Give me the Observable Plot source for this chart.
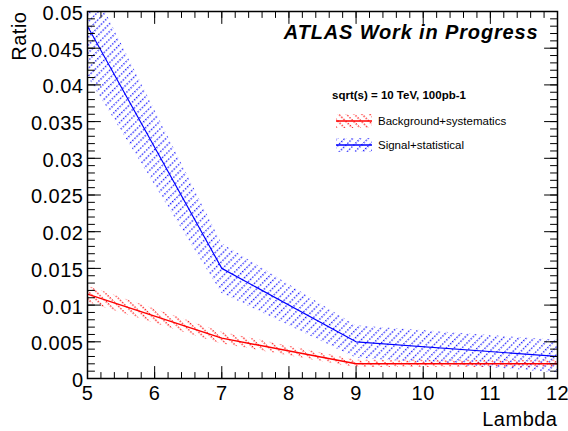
<!DOCTYPE html>
<html><head><meta charset="utf-8">
<script src="https://cdn.jsdelivr.net/npm/d3@7"></script>
<script src="https://cdn.jsdelivr.net/npm/@observablehq/plot@0.6"></script>
<style>
body{margin:0;background:#fff;}
#chart svg{font-family:"Liberation Sans",Arial,Helvetica,sans-serif;background:#fff;}
</style>
</head><body><div id="chart"></div>
<script>
// ---- data ----
const lambda = [5, 7, 9, 12];
const signal = [0.048, 0.015, 0.005, 0.003];
const signalErr = [0.0068, 0.0034, 0.0022, 0.0022];
const background = [0.0115, 0.0055, 0.002, 0.002];
const backgroundErr = [0.0011, 0.0008, 0.0005, 0.0005];
const xTicks = [5, 6, 7, 8, 9, 10, 11, 12];
const yTicks = [0, 0.005, 0.01, 0.015, 0.02, 0.025, 0.03, 0.035, 0.04, 0.045, 0.05];
const yTickLabels = ["0", "0.005", "0.01", "0.015", "0.02", "0.025", "0.03", "0.035", "0.04", "0.045", "0.05"];
const xDomain = [5, 12];
const yDomain = [0, 0.05];
const title = "ATLAS Work in Progress";
const legendHeader = "sqrt(s) = 10 TeV, 100pb-1";
const legendLabels = ["Background+systematics", "Signal+statistical"];
const colors = {bg: "#ff0000", sig: "#0000ff"};

const sigRows = lambda.map((x, i) => ({x, y: signal[i], lo: signal[i] - signalErr[i], hi: signal[i] + signalErr[i]}));
const bgRows = lambda.map((x, i) => ({x, y: background[i], lo: background[i] - backgroundErr[i], hi: background[i] + backgroundErr[i]}));

const xMinor = d3.range(0, 36).map(i => xDomain[0] + i * 0.2).filter(v => v <= xDomain[1] + 1e-9);
const yMinor = d3.range(0, 51).map(i => i * 0.001);

const line = {draw(ctx, l) { ctx.moveTo(0, 0); ctx.lineTo(0, -l); }};

function patterns() {
  const ns = "http://www.w3.org/2000/svg";
  const defs = document.createElementNS(ns, "defs");
  defs.innerHTML = `
    <pattern id="hatchSig" width="3" height="5.5" patternUnits="userSpaceOnUse" patternTransform="rotate(-45)">
      <rect x="0" y="0" width="1.4" height="1.4" fill="${colors.sig}" fill-opacity="0.9"/>
    </pattern>
    <pattern id="hatchBg" width="3" height="5.5" patternUnits="userSpaceOnUse" patternTransform="rotate(45)">
      <rect x="0" y="0" width="1.4" height="1.4" fill="${colors.bg}" fill-opacity="0.9"/>
    </pattern>`;
  return defs;
}

function legend(index, scales, values, dims) {
  const g = d3.create("svg:g").attr("font-family", "Liberation Sans, Arial, sans-serif").attr("text-anchor", "start").attr("fill", "#000");
  g.append("text").attr("x", 332).attr("y", 99).attr("font-weight", "bold").attr("font-size", 11.5).text(legendHeader);
  const entries = [{c: colors.bg, p: "hatchBg", t: legendLabels[0], y: 121},
                   {c: colors.sig, p: "hatchSig", t: legendLabels[1], y: 145}];
  for (const e of entries) {
    g.append("rect").attr("x", 336).attr("y", e.y - 7).attr("width", 36).attr("height", 14).attr("fill", `url(#${e.p})`);
    g.append("line").attr("x1", 336).attr("x2", 372).attr("y1", e.y).attr("y2", e.y).attr("stroke", e.c).attr("stroke-width", 1.5);
    g.append("text").attr("x", 378).attr("y", e.y + 4).attr("font-size", 11.5).text(e.t);
  }
  return g.node();
}

const plot = Plot.plot({
  width: 568,
  height: 431,
  marginLeft: 87,
  marginRight: 11,
  marginTop: 11,
  marginBottom: 53,
  x: {domain: xDomain},
  y: {domain: yDomain},
  style: {fontFamily: "Liberation Sans, Arial, sans-serif", background: "#fff"},
  marks: [
    patterns,
    Plot.areaY(sigRows, {x: "x", y1: "lo", y2: "hi", fill: "url(#hatchSig)", clip: true}),
    Plot.areaY(bgRows, {x: "x", y1: "lo", y2: "hi", fill: "url(#hatchBg)", clip: true}),
    Plot.line(bgRows, {x: "x", y: "y", stroke: colors.bg, strokeWidth: 1.5, clip: true}),
    Plot.line(sigRows, {x: "x", y: "y", stroke: colors.sig, strokeWidth: 1.2, clip: true}),
    // ticks (inward, ROOT style)
    Plot.vector(yMinor, {x: xDomain[0], y: d => d, length: 7, rotate: 90, anchor: "start", shape: line, stroke: "#000", strokeWidth: 1}),
    Plot.vector(yTicks, {x: xDomain[0], y: d => d, length: 13, rotate: 90, anchor: "start", shape: line, stroke: "#000", strokeWidth: 1}),
    Plot.vector(yMinor, {x: xDomain[1], y: d => d, length: 7, rotate: -90, anchor: "start", shape: line, stroke: "#000", strokeWidth: 1}),
    Plot.vector(yTicks, {x: xDomain[1], y: d => d, length: 13, rotate: -90, anchor: "start", shape: line, stroke: "#000", strokeWidth: 1}),
    Plot.vector(xMinor, {x: d => d, y: yDomain[0], length: 6, rotate: 0, anchor: "start", shape: line, stroke: "#000", strokeWidth: 1}),
    Plot.vector(xTicks, {x: d => d, y: yDomain[0], length: 12, rotate: 0, anchor: "start", shape: line, stroke: "#000", strokeWidth: 1}),
    Plot.vector(xMinor, {x: d => d, y: yDomain[1], length: 6, rotate: 180, anchor: "start", shape: line, stroke: "#000", strokeWidth: 1}),
    Plot.vector(xTicks, {x: d => d, y: yDomain[1], length: 12, rotate: 180, anchor: "start", shape: line, stroke: "#000", strokeWidth: 1}),
    Plot.frame({stroke: "#000", strokeWidth: 1.5}),
    // tick labels
    Plot.axisX({ticks: xTicks, tickSize: 0, tickPadding: 7, fontSize: 20, label: null, tickFormat: d => String(d)}),
    Plot.axisY({ticks: yTicks, tickSize: 0, tickPadding: 4, fontSize: 20, label: null, dy: 2,
                tickFormat: d => yTickLabels[yTicks.indexOf(d)] ?? ""}),
    // axis titles
    Plot.text(["Lambda"], {frameAnchor: "bottom-right", dy: 47, lineAnchor: "bottom", textAnchor: "end", fontSize: 20}),
    Plot.text(["Ratio"], {frameAnchor: "top-left", dx: -62, textAnchor: "end", lineAnchor: "bottom", rotate: -90, fontSize: 20}),
    Plot.text([title], {frameAnchor: "top-right", dx: -19, dy: 27, lineAnchor: "bottom", textAnchor: "end",
                        fontSize: 20, fontWeight: "bold", fontStyle: "italic", className: "atlas-title"}),
    legend
  ]
});
plot.querySelectorAll('[aria-label="x-axis tick label"] text, [aria-label="y-axis tick label"] text, [aria-label="text"] text').forEach(t => t.style.letterSpacing = "0.5px");
plot.querySelectorAll('.atlas-title text').forEach(t => t.style.letterSpacing = "0.85px");
document.getElementById("chart").appendChild(plot);
</script>
</body></html>
